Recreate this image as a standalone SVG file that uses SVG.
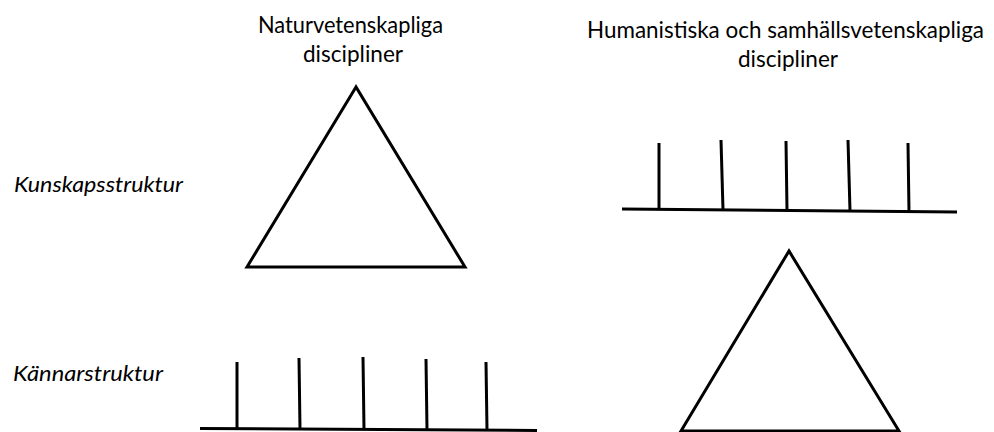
<svg xmlns="http://www.w3.org/2000/svg" width="994" height="432" viewBox="0 0 994 432">
<style>
.ln{stroke:#000;stroke-width:3;fill:none;stroke-linejoin:miter}
.tri{stroke:#000;stroke-width:3;fill:#fff;stroke-linejoin:miter}
.hd{font-family:Lato,"Open Sans","Liberation Sans",sans-serif;font-size:24px;fill:#000}
.lb{font-family:Lato,"Open Sans","Liberation Sans",sans-serif;font-size:21px;font-style:italic;fill:#000}
</style>
<rect width="994" height="432" fill="#fff"/>
<g id="headings">
<text class="hd" x="258" y="33" textLength="185" lengthAdjust="spacingAndGlyphs">Naturvetenskapliga</text>
<text class="hd" x="303" y="62" textLength="100" lengthAdjust="spacingAndGlyphs">discipliner</text>
<text class="hd" x="587" y="38" style="font-size:22.5px" textLength="397" lengthAdjust="spacingAndGlyphs">Humanistiska och samhällsvetenskapliga</text>
<text class="hd" x="738" y="67" textLength="100" lengthAdjust="spacingAndGlyphs">discipliner</text>
</g>
<g id="row-labels">
<text class="lb" x="14" y="192" textLength="169" lengthAdjust="spacingAndGlyphs">Kunskapsstruktur</text>
<text class="lb" x="13" y="381" textLength="150" lengthAdjust="spacingAndGlyphs">Kännarstruktur</text>
</g>
<g id="triangle-natural">
<polygon class="tri" points="356,87 247,267 465,267"/>
</g>
<g id="comb-natural">
<line class="ln" x1="200" y1="428.5" x2="537" y2="430.5"/>
<line class="ln" x1="237" y1="362" x2="237" y2="429"/>
<line class="ln" x1="299" y1="358" x2="300" y2="429"/>
<line class="ln" x1="363" y1="357" x2="364" y2="429.5"/>
<line class="ln" x1="426" y1="359" x2="427" y2="430"/>
<line class="ln" x1="486" y1="362" x2="487" y2="430"/>
</g>
<g id="comb-humanities">
<line class="ln" x1="622" y1="209" x2="957" y2="212"/>
<line class="ln" x1="659" y1="143" x2="659" y2="209.5"/>
<line class="ln" x1="721" y1="140" x2="723" y2="210"/>
<line class="ln" x1="786" y1="141" x2="787" y2="210.5"/>
<line class="ln" x1="848" y1="140" x2="850" y2="211"/>
<line class="ln" x1="908" y1="143" x2="909" y2="212"/>
</g>
<g id="triangle-humanities">
<polygon class="tri" points="789,251 681,431 899,431"/>
</g>
<g id="connectors"></g>
</svg>
